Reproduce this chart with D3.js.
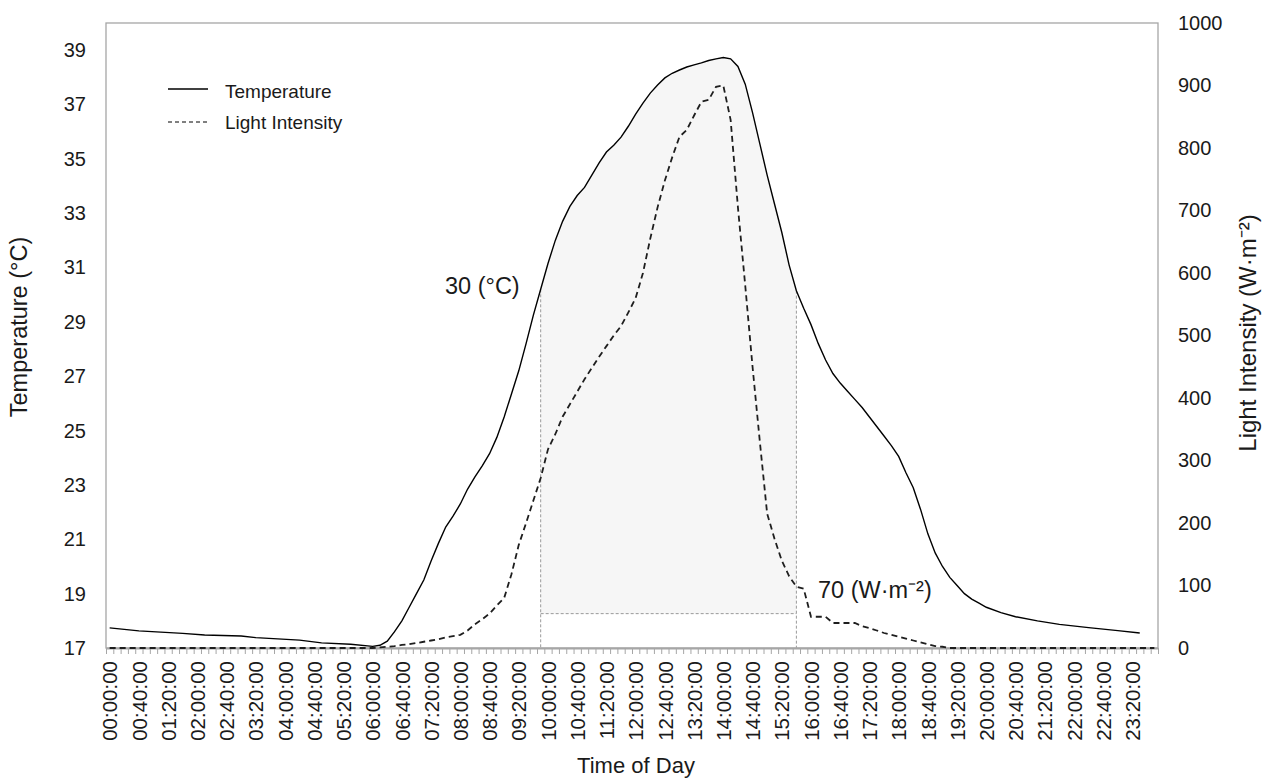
<!DOCTYPE html>
<html>
<head>
<meta charset="utf-8">
<script src="https://cdn.jsdelivr.net/npm/d3@7"></script>
<style>
  body { margin: 0; background: #fff; }
  text { font-family: "Liberation Sans", Arial, sans-serif; fill: #1a1a1a; }
</style>
</head>
<body>
<svg id="chart"></svg>
<script>
var width = 1262,
  height = 780;

// temperature readings (time of day, °C)
var tempTimes = ['00:00', '00:40', '01:40', '02:10', '03:00', '03:20', '04:20', '04:50', '05:30', '06:00',
  '06:10', '06:20', '06:30', '06:40', '06:50', '07:00', '07:10', '07:20', '07:30', '07:40', '07:50',
  '08:00', '08:10', '08:20', '08:30', '08:40', '08:50', '09:00', '09:10', '09:20', '09:30', '09:40', '09:50',
  '10:00', '10:10', '10:20', '10:30', '10:40', '10:50', '11:00', '11:10', '11:20', '11:30', '11:40', '11:50',
  '12:00', '12:10', '12:20', '12:30', '12:40', '12:50', '13:00', '13:10', '13:20', '13:30', '13:40', '13:50',
  '14:00', '14:10', '14:20', '14:30', '14:40', '14:50', '15:00', '15:10', '15:20', '15:30', '15:40', '15:50',
  '16:00', '16:10', '16:20', '16:30', '16:40', '16:50', '17:00', '17:10', '17:20', '17:30', '17:40', '17:50',
  '18:00', '18:10', '18:20', '18:30', '18:40', '18:50', '19:00', '19:10', '19:20', '19:30', '19:40', '19:50',
  '20:00', '20:20', '20:40', '21:10', '21:40', '22:20', '23:00', '23:30'];
var tempValues = [17.74, 17.63, 17.54, 17.48, 17.44, 17.38, 17.29, 17.19, 17.14, 17.06,
  17.10, 17.25, 17.60, 18.00, 18.50, 19.00, 19.50, 20.20, 20.85, 21.45, 21.85,
  22.30, 22.85, 23.30, 23.70, 24.15, 24.75, 25.50, 26.35, 27.20, 28.20, 29.25, 30.20,
  31.15, 32.00, 32.70, 33.25, 33.65, 33.95, 34.40, 34.85, 35.25, 35.50, 35.80, 36.20,
  36.65, 37.05, 37.42, 37.72, 37.98, 38.15, 38.27, 38.38, 38.46, 38.53, 38.62, 38.68,
  38.73, 38.68, 38.40, 37.75, 36.70, 35.55, 34.40, 33.35, 32.30, 31.10, 30.15, 29.50,
  28.90, 28.20, 27.60, 27.10, 26.75, 26.45, 26.15, 25.85, 25.50, 25.15, 24.80, 24.45,
  24.05, 23.45, 22.90, 22.10, 21.20, 20.50, 20.00, 19.60, 19.30, 19.00, 18.80, 18.65,
  18.50, 18.30, 18.15, 18.00, 17.87, 17.75, 17.64, 17.55];

// light intensity readings (time of day, W·m-2)
var lightTimes = ['00:00', '06:00', '06:10', '06:20', '06:30', '06:40', '06:50', '07:00', '07:10', '07:20',
  '07:30', '07:40', '07:50', '08:00', '08:10', '08:20', '08:30', '08:40', '08:50', '09:00', '09:10',
  '09:20', '09:30', '09:40', '09:50', '10:00', '10:10', '10:20', '10:30', '10:40', '10:50', '11:00',
  '11:10', '11:20', '11:30', '11:40', '11:50', '12:00', '12:10', '12:20', '12:30', '12:40', '12:50',
  '13:00', '13:10', '13:20', '13:30', '13:40', '13:50', '14:00', '14:10', '14:20', '14:30', '14:40',
  '14:50', '15:00', '15:10', '15:20', '15:30', '15:40', '15:50', '16:00', '16:10', '16:20', '16:30',
  '16:40', '16:50', '17:00', '17:10', '17:20', '17:30', '17:40', '17:50', '18:00', '18:10', '18:20',
  '18:30', '18:40', '18:50', '19:00', '19:10', '23:50'];
var lightValues = [0, 0, 1, 2, 3, 5, 6, 8, 10, 12,
  14, 17, 19, 21, 28, 38, 46, 55, 68, 80, 118,
  165, 200, 236, 272, 318, 342, 370, 390, 410, 430, 448,
  466, 483, 500, 515, 537, 560, 600, 655, 705, 748, 785,
  818, 829, 852, 874, 877, 898, 900, 845, 705, 580, 450,
  330, 215, 175, 140, 115, 98, 95, 50, 50, 50, 40,
  40, 40, 40, 35, 32, 28, 24, 21, 18, 15, 12,
  9, 6, 3, 2, 0, 0];

var xTickLabels = ['00:00:00', '00:40:00', '01:20:00', '02:00:00', '02:40:00', '03:20:00', '04:00:00',
  '04:40:00', '05:20:00', '06:00:00', '06:40:00', '07:20:00', '08:00:00', '08:40:00', '09:20:00',
  '10:00:00', '10:40:00', '11:20:00', '12:00:00', '12:40:00', '13:20:00', '14:00:00', '14:40:00',
  '15:20:00', '16:00:00', '16:40:00', '17:20:00', '18:00:00', '18:40:00', '19:20:00', '20:00:00',
  '20:40:00', '21:20:00', '22:00:00', '22:40:00', '23:20:00'];
var tempTicks = [17, 19, 21, 23, 25, 27, 29, 31, 33, 35, 37, 39];
var lightTicks = [0, 100, 200, 300, 400, 500, 600, 700, 800, 900, 1000];

// shaded window where temperature is above 30 °C
var shadeStart = '09:50',
  shadeEnd = '15:40',
  shadeFloor = 55;

function toMin(s) {
  var p = s.split(':');
  return (+p[0]) * 60 + (+p[1]) + (p[2] ? +p[2] / 60 : 0);
}

var temp = tempTimes.map(function(t, i) { return { t: toMin(t), v: tempValues[i] }; });
var light = lightTimes.map(function(t, i) { return { t: toMin(t), v: lightValues[i] }; });

var pLeft = 106, pRight = 1158, pTop = 23, pBottom = 648;
var font = '"Liberation Sans", Arial, sans-serif';

// 10-minute categories, each point sits in the middle of its slot
var x = d3.scaleLinear().domain([-5, 1435]).range([pLeft, pRight]);
var yT = d3.scaleLinear().domain([17, 40]).range([pBottom, pTop]);
var yL = d3.scaleLinear().domain([0, 1000]).range([pBottom, pTop]);

var svg = d3.select('#chart')
  .attr('width', width)
  .attr('height', height);

// shaded area
var t0 = toMin(shadeStart), t1 = toMin(shadeEnd);
var shadeData = temp.filter(function(d) { return d.t >= t0 && d.t <= t1; });

svg.append('path')
  .datum(shadeData)
  .attr('fill', '#f6f6f6')
  .attr('d', d3.area()
    .x(function(d) { return x(d.t); })
    .y0(yL(shadeFloor))
    .y1(function(d) { return yT(d.v); }));

var guide = svg.append('g')
  .attr('stroke', '#9a9a9a')
  .attr('stroke-width', 1)
  .attr('stroke-dasharray', '3,2')
  .attr('fill', 'none');

[shadeData[0], shadeData[shadeData.length - 1]].forEach(function(d) {
  guide.append('line')
    .attr('x1', x(d.t)).attr('x2', x(d.t))
    .attr('y1', yT(d.v)).attr('y2', pBottom);
});
guide.append('line')
  .attr('x1', x(t0)).attr('x2', x(t1))
  .attr('y1', yL(shadeFloor)).attr('y2', yL(shadeFloor));

// plot frame
svg.append('rect')
  .attr('x', pLeft)
  .attr('y', pTop)
  .attr('width', pRight - pLeft)
  .attr('height', pBottom - pTop)
  .attr('fill', 'none')
  .attr('stroke', '#a6a6a6')
  .attr('stroke-width', 1.3);

// x axis: minor ticks on category boundaries
var minor = d3.range(-5, 1436, 10);
svg.append('g')
  .attr('transform', 'translate(0,' + pBottom + ')')
  .call(d3.axisBottom(x).tickValues(minor).tickFormat('').tickSize(6).tickSizeOuter(0))
  .call(function(g) {
    g.select('.domain').attr('stroke', '#a6a6a6').attr('stroke-width', 2.2);
    g.selectAll('.tick line').attr('stroke', '#a6a6a6');
  });

var xLab = svg.append('g')
  .attr('transform', 'translate(0,' + pBottom + ')')
  .call(d3.axisBottom(x)
    .tickValues(xTickLabels.map(toMin))
    .tickFormat(function(d, i) { return xTickLabels[i]; })
    .tickSize(0));
xLab.select('.domain').remove();
xLab.selectAll('text')
  .attr('font-size', 20.5)
  .attr('font-family', font)
  .attr('fill', '#1a1a1a')
  .attr('transform', 'rotate(-90)')
  .attr('text-anchor', 'end')
  .attr('dy', '0.35em')
  .attr('x', -13)
  .attr('y', 0);

// left axis
var yAxisL = svg.append('g')
  .attr('transform', 'translate(' + pLeft + ',0)')
  .call(d3.axisLeft(yT).tickValues(tempTicks).tickFormat(d3.format('d')).tickSize(0).tickPadding(20));
yAxisL.select('.domain').remove();
yAxisL.selectAll('text')
  .attr('font-size', 20)
  .attr('font-family', font)
  .attr('fill', '#1a1a1a');

// right axis
var yAxisR = svg.append('g')
  .attr('transform', 'translate(' + pRight + ',0)')
  .call(d3.axisRight(yL).tickValues(lightTicks).tickFormat(d3.format('d')).tickSize(0).tickPadding(20));
yAxisR.select('.domain').remove();
yAxisR.selectAll('text')
  .attr('font-size', 20)
  .attr('font-family', font)
  .attr('fill', '#1a1a1a');

// lines
svg.append('path')
  .datum(light)
  .attr('fill', 'none')
  .attr('stroke', '#1e1e1e')
  .attr('stroke-width', 1.8)
  .attr('stroke-dasharray', '6,4')
  .attr('d', d3.line()
    .x(function(d) { return x(d.t); })
    .y(function(d) { return yL(d.v); }));

svg.append('path')
  .datum(temp)
  .attr('fill', 'none')
  .attr('stroke', '#000')
  .attr('stroke-width', 1.4)
  .attr('d', d3.line()
    .x(function(d) { return x(d.t); })
    .y(function(d) { return yT(d.v); }));

// axis titles
svg.append('text')
  .attr('x', 636)
  .attr('y', 773)
  .attr('text-anchor', 'middle')
  .attr('font-size', 22)
  .text('Time of Day');

svg.append('text')
  .attr('transform', 'translate(27,327)rotate(-90)')
  .attr('text-anchor', 'middle')
  .attr('font-size', 23.5)
  .text('Temperature (°C)');

svg.append('text')
  .attr('transform', 'translate(1256,333)rotate(-90)')
  .attr('text-anchor', 'middle')
  .attr('font-size', 24)
  .text('Light Intensity (W·m⁻²)');

// legend
var legend = svg.append('g').attr('transform', 'translate(168,89)');
legend.append('line')
  .attr('x1', 0).attr('x2', 40).attr('y1', 0).attr('y2', 0)
  .attr('stroke', '#000').attr('stroke-width', 1.6);
legend.append('line')
  .attr('x1', 0).attr('x2', 40).attr('y1', 33).attr('y2', 33)
  .attr('stroke', '#000').attr('stroke-width', 1).attr('stroke-dasharray', '4,3');
legend.append('text')
  .attr('x', 57).attr('y', 2).attr('dy', '0.35em')
  .attr('font-size', 19)
  .text('Temperature');
legend.append('text')
  .attr('x', 57).attr('y', 33).attr('dy', '0.35em')
  .attr('font-size', 19)
  .text('Light Intensity');

// annotations
svg.append('text')
  .attr('x', 445).attr('y', 286).attr('dy', '0.35em')
  .attr('font-size', 23.5)
  .text('30 (°C)');

svg.append('text')
  .attr('x', 818).attr('y', 590).attr('dy', '0.35em')
  .attr('font-size', 23.5)
  .text('70 (W·m⁻²)');
</script>
</body>
</html>
